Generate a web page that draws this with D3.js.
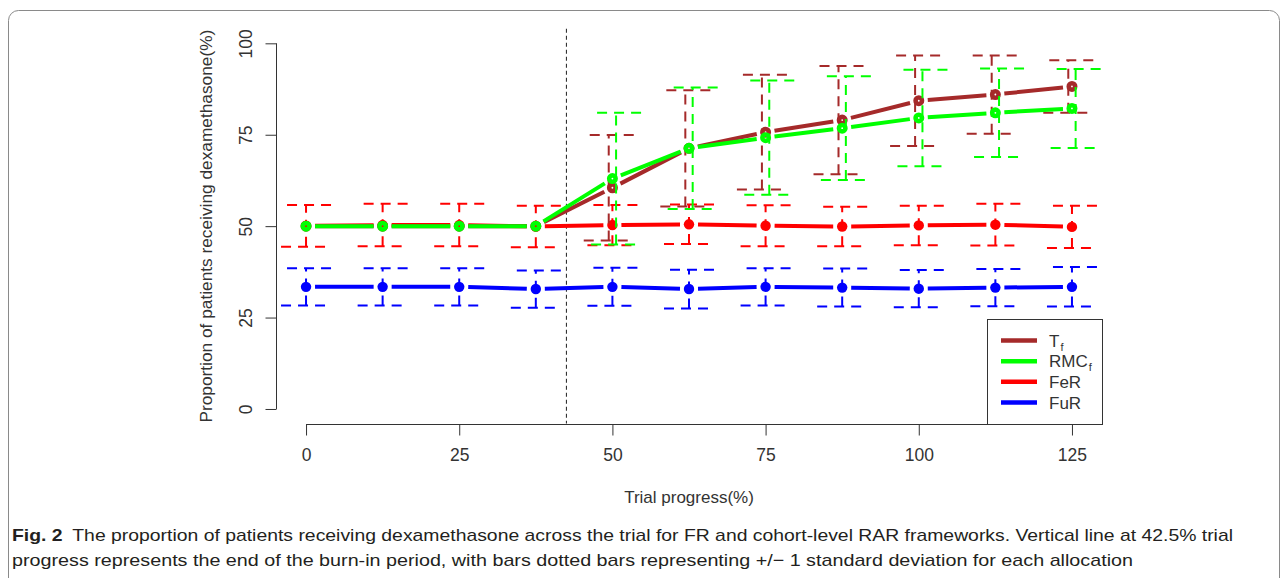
<!DOCTYPE html>
<html>
<head>
<meta charset="utf-8">
<script src="https://cdn.jsdelivr.net/npm/d3@7"></script>
<style>
  html, body { margin: 0; padding: 0; background: #fff; }
  svg { display: block; }
</style>
</head>
<body>
<svg id="chart" width="1282" height="578"></svg>
<script>
// Trial progress (%) at each interim analysis
const progress = [0, 12.5, 25, 37.5, 50, 62.5, 75, 87.5, 100, 112.5, 125];

// Mean proportion (%) of patients receiving dexamethasone, and its standard deviation
const tfMean   = [50, 50, 50, 50, 60.5, 71.3, 75.7, 79.0, 84.3, 86.0, 88.2];
const tfSd     = [null, null, null, null, 14.4, 15.9, 15.7, 14.8, 12.4, 10.7, 7.2];
const rmcfMean = [50, 50, 50, 50, 63.0, 71.3, 74.2, 76.8, 79.6, 81.0, 82.2];
const rmcfSd   = [null, null, null, null, 18.0, 16.6, 15.6, 14.2, 13.2, 12.1, 10.8];
const ferMean  = [50.1, 50.3, 50.3, 49.9, 50.3, 50.5, 50.1, 49.9, 50.2, 50.4, 49.8];
const ferSd    = [5.7, 5.8, 5.8, 5.7, 5.5, 5.4, 5.6, 5.4, 5.4, 5.7, 5.8];
const furMean  = [33.4, 33.4, 33.4, 32.8, 33.4, 32.8, 33.4, 33.2, 32.9, 33.2, 33.4];
const furSd    = [5.1, 5.1, 5.1, 5.1, 5.2, 5.3, 5.1, 5.2, 5.1, 5.1, 5.4];

// Axis ticks and the end of the burn-in period
const xTicks = [0, 25, 50, 75, 100, 125];
const yTicks = [0, 25, 50, 75, 100];
const burnIn = 42.5;

const xTitle = "Trial progress(%)";
const yTitle = "Proportion of patients receiving dexamethasone(%)";
const captionBold = "Fig. 2";
const captionLine1 = "The proportion of patients receiving dexamethasone across the trial for FR and cohort-level RAR frameworks. Vertical line at 42.5% trial";
const captionLine2 = "progress represents the end of the burn-in period, with bars dotted bars representing +/\u2212 1 standard deviation for each allocation";

// Series in drawing order (later ones sit on top)
const series = [
  { key: "FuR",  label: "FuR", sub: "",  color: "#0000ff", mean: furMean,  sd: furSd,  ring: false, shift: 0 },
  { key: "FeR",  label: "FeR", sub: "",  color: "#ff0000", mean: ferMean,  sd: ferSd,  ring: false, shift: 0 },
  { key: "Tf",   label: "T",   sub: "f", color: "#a52a2a", mean: tfMean,   sd: tfSd,   ring: true,  shift: -0.6 },
  { key: "RMCf", label: "RMC", sub: "f", color: "#00ff00", mean: rmcfMean, sd: rmcfSd, ring: true,  shift: 0.6 }
];
const legendOrder = ["Tf", "RMCf", "FeR", "FuR"];

const svg = d3.select("#chart");
const font = "'Liberation Sans', Arial, Helvetica, sans-serif";

// Figure frame with rounded corners
svg.append("rect")
  .attr("x", 8.5).attr("y", 10.5)
  .attr("width", 1271).attr("height", 620)
  .attr("rx", 10).attr("ry", 10)
  .attr("fill", "none").attr("stroke", "#8a8a8a").attr("stroke-width", 1);

// Scales (extended 4% beyond the data range on each side)
const x = d3.scaleLinear().domain([-5, 130]).range([275.4, 1102.6]);
const y = d3.scaleLinear().domain([-4, 104]).range([423.6, 28.7]);

const axisColor = "#333";

// X axis
const gx = svg.append("g")
  .attr("transform", "translate(0,424.5)")
  .call(d3.axisBottom(x).tickValues(xTicks).tickSize(11).tickSizeOuter(0).tickFormat(d3.format("d")));
gx.select(".domain").attr("d", `M${x(xTicks[0])},0H${x(xTicks[xTicks.length - 1])}`)
  .attr("stroke", axisColor);
gx.selectAll(".tick line").attr("stroke", axisColor);
gx.selectAll(".tick text")
  .attr("y", 36).attr("dy", null)
  .attr("fill", axisColor)
  .style("font-family", font).style("font-size", "17.5px");

// Y axis with rotated labels
const gy = svg.append("g")
  .attr("transform", "translate(276.5,0)")
  .call(d3.axisLeft(y).tickValues(yTicks).tickSize(11).tickSizeOuter(0).tickFormat(d3.format("d")));
gy.select(".domain").attr("d", `M0,${y(yTicks[0])}V${y(yTicks[yTicks.length - 1])}`)
  .attr("stroke", axisColor);
gy.selectAll(".tick line").attr("stroke", axisColor);
gy.selectAll(".tick text")
  .attr("x", null).attr("dy", null)
  .attr("transform", "translate(-31,0) rotate(-90)")
  .attr("text-anchor", "middle")
  .attr("dominant-baseline", "central")
  .attr("fill", axisColor)
  .style("font-family", font).style("font-size", "17.5px");

// Axis titles
svg.append("text")
  .attr("x", (x(-5) + x(130)) / 2).attr("y", 503)
  .attr("text-anchor", "middle")
  .attr("fill", axisColor)
  .style("font-family", font).style("font-size", "17px")
  .text(xTitle);

svg.append("text")
  .attr("transform", `translate(206,${(y(-4) + y(104)) / 2}) rotate(-90)`)
  .attr("text-anchor", "middle")
  .attr("dominant-baseline", "central")
  .attr("fill", axisColor)
  .style("font-family", font).style("font-size", "17.3px")
  .text(yTitle);

// Burn-in boundary
svg.append("line")
  .attr("x1", x(burnIn)).attr("x2", x(burnIn))
  .attr("y1", y(104)).attr("y2", y(-4))
  .attr("stroke", "#333").attr("stroke-width", 1.1)
  .attr("stroke-dasharray", "4,3");

// Error bars: dashed shaft with dashed caps, +/- 1 SD
const capHalf = 25;
const barDash = "10,7";
function drawBars(g, s) {
  progress.forEach((p, i) => {
    const sd = s.sd[i];
    if (sd == null) return;
    const cx = x(p + s.shift);
    const yTop = y(s.mean[i] + sd);
    const yBot = y(s.mean[i] - sd);
    const common = sel => sel
      .attr("fill", "none").attr("stroke", s.color)
      .attr("stroke-width", 2).attr("stroke-dasharray", barDash);
    g.append("path").attr("d", `M${cx},${yBot}L${cx},${yTop}`).call(common);
    g.append("path").attr("d", `M${cx + capHalf},${yTop}L${cx},${yTop}L${cx - capHalf},${yTop}`).call(common);
    g.append("path").attr("d", `M${cx - capHalf},${yBot}L${cx},${yBot}L${cx + capHalf},${yBot}`).call(common);
  });
}

// Lines drawn as segments that stop short of each point, then the points
const gap = 9;
function drawSeries(g, s) {
  const pts = progress.map((p, i) => [x(p), y(s.mean[i])]);
  for (let i = 0; i < pts.length - 1; i++) {
    const [x0, y0] = pts[i], [x1, y1] = pts[i + 1];
    const len = Math.hypot(x1 - x0, y1 - y0);
    if (len <= 2 * gap) continue;
    const ux = (x1 - x0) / len, uy = (y1 - y0) / len;
    g.append("line")
      .attr("x1", x0 + ux * gap).attr("y1", y0 + uy * gap)
      .attr("x2", x1 - ux * gap).attr("y2", y1 - uy * gap)
      .attr("stroke", s.color).attr("stroke-width", 4);
  }
  g.selectAll("circle").data(pts).join("circle")
    .attr("cx", d => d[0]).attr("cy", d => d[1])
    .attr("r", s.ring ? 3.2 : 5.2)
    .attr("fill", s.ring ? "none" : s.color)
    .attr("stroke", s.color)
    .attr("stroke-width", s.ring ? 4.6 : 0);
}

series.forEach(s => {
  const g = svg.append("g").attr("class", "series-" + s.key);
  drawBars(g.append("g"), s);
  drawSeries(g.append("g"), s);
});

// Legend
const legend = svg.append("g");
legend.append("rect")
  .attr("x", 987.5).attr("y", 319.5).attr("width", 115).attr("height", 105)
  .attr("fill", "#fff").attr("stroke", axisColor).attr("stroke-width", 1);
const rowY = d3.scaleLinear().domain([0, 3]).range([340.5, 402.5]);
legendOrder.forEach((k, i) => {
  const s = series.find(d => d.key === k);
  const ly = rowY(i);
  legend.append("line")
    .attr("x1", 1001).attr("x2", 1037).attr("y1", ly).attr("y2", ly)
    .attr("stroke", s.color).attr("stroke-width", 4.5);
  const t = legend.append("text")
    .attr("x", 1049).attr("y", ly + 6)
    .attr("fill", axisColor)
    .style("font-family", font).style("font-size", "17px");
  t.append("tspan").text(s.label);
  if (s.sub) t.append("tspan").attr("dx", 1).attr("dy", 4).style("font-size", "11px").text(s.sub);
});

// Caption
const capFont = "'Liberation Sans Narrow', 'Arial Narrow', 'Liberation Sans', Arial, sans-serif";
const c1 = svg.append("text")
  .attr("x", 12).attr("y", 541)
  .attr("textLength", 1221).attr("lengthAdjust", "spacingAndGlyphs")
  .attr("fill", "#231f20")
  .style("font-family", capFont).style("font-size", "17px");
c1.append("tspan").style("font-weight", "bold").text(captionBold);
c1.append("tspan").text("\u2002" + captionLine1);

svg.append("text")
  .attr("x", 12).attr("y", 566)
  .attr("textLength", 1121).attr("lengthAdjust", "spacingAndGlyphs")
  .attr("fill", "#231f20")
  .style("font-family", capFont).style("font-size", "17px")
  .text(captionLine2);
</script>
</body>
</html>
